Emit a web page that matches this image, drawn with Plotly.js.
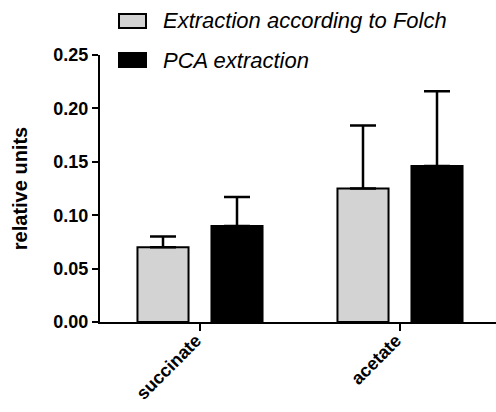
<!DOCTYPE html>
<html>
<head>
<meta charset="utf-8">
<script src="https://cdn.plot.ly/plotly-3.0.1.min.js"></script>
<style>html,body{margin:0;padding:0;background:#fff;}#chart{width:496px;height:412px;}</style>
</head>
<body>
<div id="chart"></div>
<script>
const categories = ["succinate", "acetate"];
const seriesNames = ["Extraction according to Folch", "PCA extraction"];
const folchValues = [0.070, 0.125];
const folchErrors = [0.010, 0.059];
const pcaValues = [0.090, 0.146];
const pcaErrors = [0.027, 0.070];
const yTicks = [0, 0.05, 0.10, 0.15, 0.20, 0.25];
const yTickLabels = ["0.00", "0.05", "0.10", "0.15", "0.20", "0.25"];

const FONT = "Liberation Sans, Arial, sans-serif";
const fills = ["#d3d3d3", "#000000"];

function barTrace(name, vals, errs, fill) {
  return {
    type: "bar", name: name, x: categories, y: vals,
    marker: {color: fill, line: {color: "#000", width: 2}},
    error_y: {type: "data", array: errs, arrayminus: errs.map(() => 0), symmetric: false,
              color: "#000", thickness: 2.5, width: 13},
    showlegend: false
  };
}

const data = [
  barTrace(seriesNames[0], folchValues, folchErrors, fills[0]),
  barTrace(seriesNames[1], pcaValues, pcaErrors, fills[1])
];

const legendRows = [21, 60];
const shapes = [];
const annotations = [];
seriesNames.forEach((n, i) => {
  shapes.push({type: "rect", xref: "paper", yref: "paper",
    x0: (119 - 100) / 396, x1: (146 - 100) / 396,
    y0: (322 - legendRows[i] + 7) / 267, y1: (322 - legendRows[i] - 7) / 267,
    fillcolor: fills[i], line: {color: "#000", width: 2}});
  annotations.push({xref: "paper", yref: "paper", x: (161 - 100) / 396, y: (322 - legendRows[i]) / 267,
    xanchor: "left", yanchor: "middle", showarrow: false, text: n,
    font: {family: FONT, size: 22, style: "italic", color: "#000"}});
});

const layout = {
  width: 496, height: 412,
  margin: {l: 100, r: 0, t: 55, b: 90},
  paper_bgcolor: "#fff", plot_bgcolor: "#fff",
  barmode: "group", bargap: 0.26, bargroupgap: 0.31,
  showlegend: false,
  xaxis: {
    range: [-0.5, 1.48], showgrid: false, zeroline: false,
    showline: true, linecolor: "#000", linewidth: 2,
    ticks: "outside", ticklen: 7, tickwidth: 2, tickcolor: "#000",
    ticklabelstandoff: -8, ticklabelshift: -4,
    tickangle: -45, tickfont: {family: FONT, size: 18, weight: "bold", color: "#000"}
  },
  yaxis: {
    range: [0, 0.25], showgrid: false, zeroline: false,
    showline: true, linecolor: "#000", linewidth: 2,
    ticks: "outside", ticklen: 6, tickwidth: 2, tickcolor: "#000",
    tickvals: yTicks, ticktext: yTickLabels,
    tickfont: {family: FONT, size: 18, weight: "bold", color: "#000"},
    title: {text: "relative units", font: {family: FONT, size: 20, weight: "bold", color: "#000"}, standoff: 20}
  },
  shapes: shapes,
  annotations: annotations
};

Plotly.newPlot("chart", data, layout, {displayModeBar: false, staticPlot: true});
</script>
</body>
</html>
